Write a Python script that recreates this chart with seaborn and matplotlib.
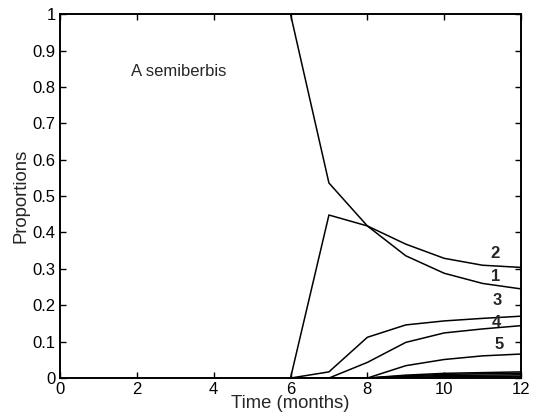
import matplotlib
matplotlib.use("Agg")
import matplotlib.pyplot as plt
import seaborn as sns
import pandas as pd

months = [6, 7, 8, 9, 10, 11, 12]

stage_1 = [1.0, 0.536, 0.418, 0.336, 0.288, 0.260, 0.245]
stage_2 = [0.0, 0.448, 0.418, 0.368, 0.329, 0.310, 0.304]
stage_3 = [0.0, 0.017, 0.112, 0.146, 0.157, 0.164, 0.170]
stage_4 = [0.0, 0.0, 0.043, 0.098, 0.124, 0.135, 0.144]
stage_5 = [0.0, 0.0, 0.0, 0.034, 0.051, 0.061, 0.066]
stage_6 = [0.0, 0.0, 0.0, 0.008, 0.013, 0.015, 0.017]
stage_7 = [0.0, 0.0, 0.0, 0.006, 0.010, 0.012, 0.013]
stage_8 = [0.0, 0.0, 0.0, 0.004, 0.007, 0.008, 0.009]
stage_9 = [0.0, 0.0, 0.0, 0.002, 0.004, 0.005, 0.005]

stages = {"1": stage_1, "2": stage_2, "3": stage_3, "4": stage_4, "5": stage_5,
          "6": stage_6, "7": stage_7, "8": stage_8, "9": stage_9}

# curve labels: text, x, y
label_text = ["2", "1", "3", "4", "5"]
label_x = [11.33, 11.35, 11.38, 11.35, 11.42]
label_y = [0.343, 0.280, 0.214, 0.154, 0.093]

x_ticks = [0, 2, 4, 6, 8, 10, 12]
y_ticks = [0, 0.1, 0.2, 0.3, 0.4, 0.5, 0.6, 0.7, 0.8, 0.9, 1]
y_tick_labels = ["0", "0.1", "0.2", "0.3", "0.4", "0.5", "0.6", "0.7", "0.8", "0.9", "1"]

rows = []
for name, vals in stages.items():
    for m, v in zip(months, vals):
        rows.append({"Time": m, "Proportion": v, "Stage": name})
df = pd.DataFrame(rows)

sns.set_style("white")
plt.rcParams["font.family"] = ["Liberation Sans", "DejaVu Sans"]

fig = plt.figure(figsize=(5.36, 4.15), dpi=100)
ax = fig.add_axes([0.112, 0.089, 0.860, 0.877])

sns.lineplot(data=df, x="Time", y="Proportion", hue="Stage",
             palette=["black"] * len(stages), linewidth=1.1,
             legend=False, ax=ax, estimator=None)

for t, lx, ly in zip(label_text, label_x, label_y):
    ax.text(lx, ly, t, fontsize=12, fontweight="bold", ha="center", va="center")

ax.text(1.85, 0.843, "A semiberbis", fontsize=12, ha="left", va="center")

ax.set_xlim(0, 12)
ax.set_ylim(0, 1)
ax.set_xticks(x_ticks)
ax.set_xticklabels([str(t) for t in x_ticks])
ax.set_yticks(y_ticks)
ax.set_yticklabels(y_tick_labels)
ax.tick_params(direction="in", length=4, width=1, top=True, right=True,
               bottom=True, left=True, labelsize=12, pad=3, colors="black")
ax.set_xlabel("Time (months)", fontsize=13.3, labelpad=-1.5)
ax.set_ylabel("Proportions", fontsize=13.3, labelpad=2)
for s in ax.spines.values():
    s.set_visible(True)
    s.set_color("black")
    s.set_linewidth(1.4)

fig.savefig("out.png", dpi=100, facecolor="white")
